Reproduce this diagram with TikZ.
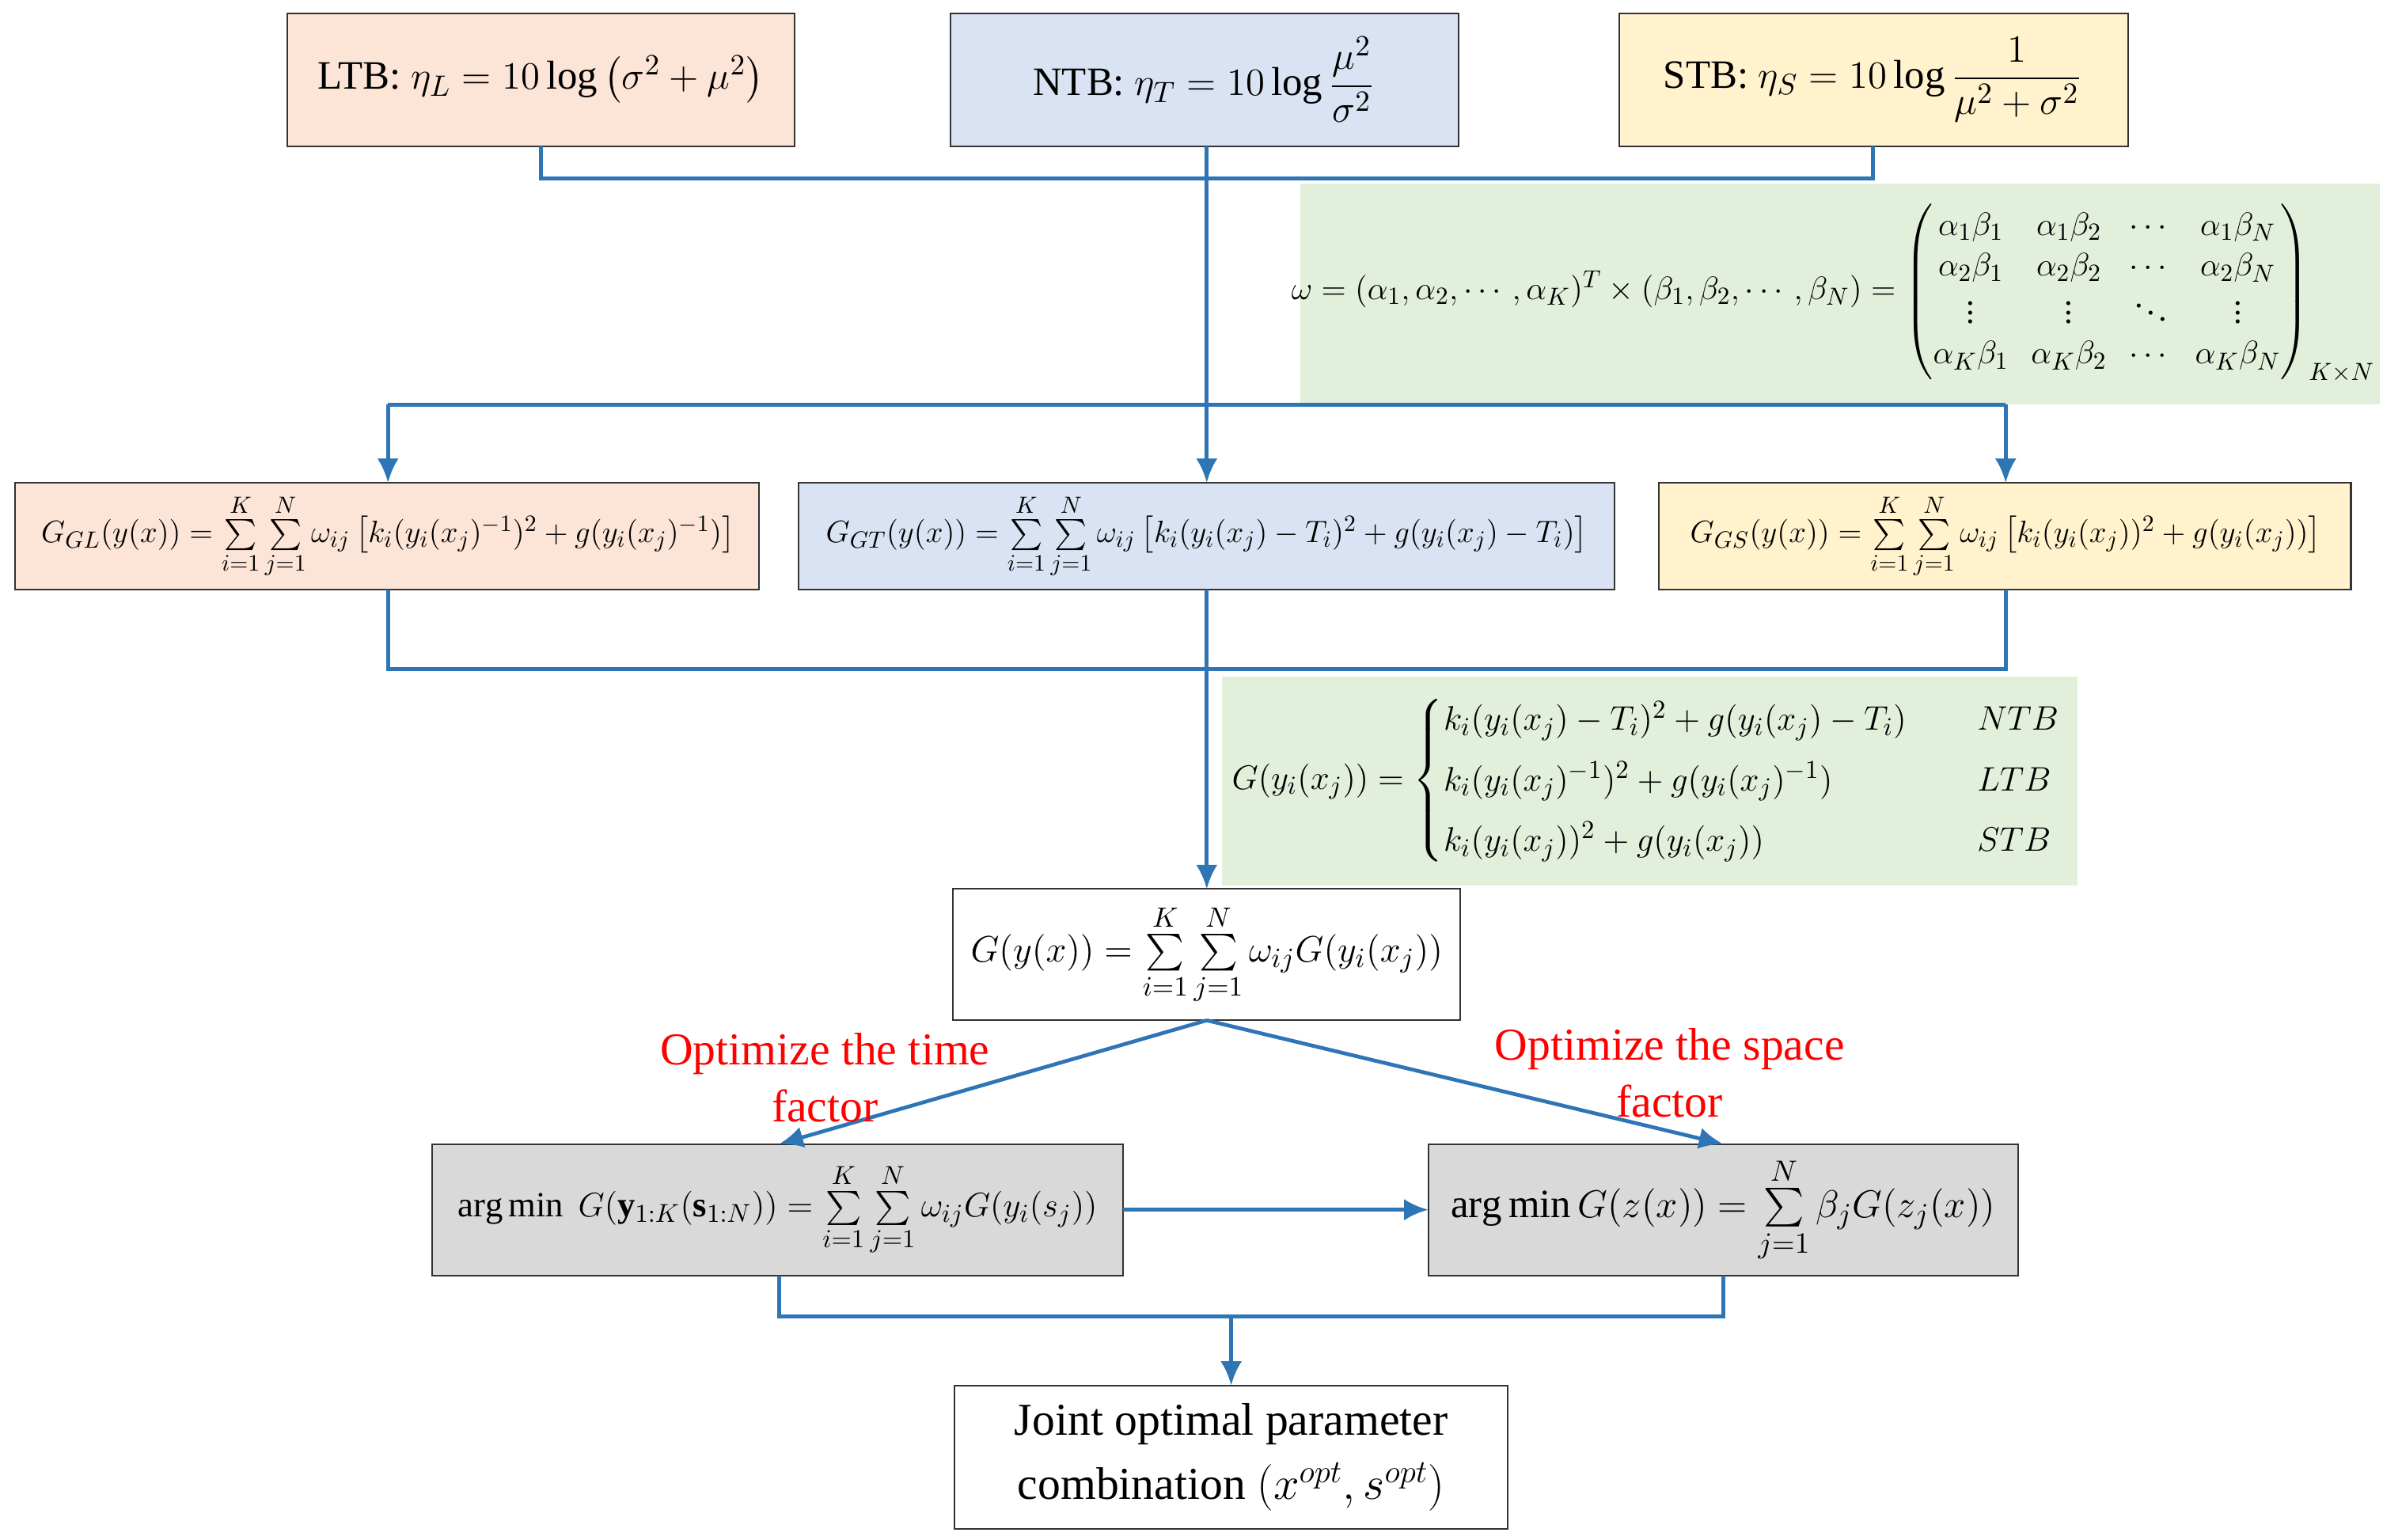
\documentclass[tikz,border=0pt]{standalone}
\usepackage{amsmath}
\usepackage{fontspec}
\setmainfont{Liberation Serif}
\usetikzlibrary{arrows.meta}
\begin{document}
\begin{tikzpicture}[x=0.02cm,y=-0.02cm,
 box/.style={draw=black!80,line width=0.6pt,inner sep=0pt},
 ln/.style={draw=lb,line width=1.4pt},
 ar/.style={ln,-{Latex[length=9pt,width=8pt]}},
 red/.style={text=red,font=\fontsize{17}{20}\selectfont}]
\definecolor{pe}{HTML}{FCE4D6}\definecolor{bl}{HTML}{DAE3F3}\definecolor{lb}{HTML}{2E75B6}
\definecolor{ye}{HTML}{FFF2CC}\definecolor{gr}{HTML}{E2EFDA}\definecolor{gy}{HTML}{D9D9D9}
\fontsize{15}{18}\selectfont
\useasboundingbox (0,0) rectangle (1560,1008);
% boxes
\draw[box,fill=pe] (188,9) rectangle (520,96); \node (ltb) at (354,52) {LTB: $\eta_L=10\log\left(\sigma^2+\mu^2\right)$};
\draw[box,fill=bl] (622,9) rectangle (955,96); \node (ntb) at (788,52) {NTB: $\eta_T=10\log\dfrac{\mu^2}{\sigma^2}$};
\draw[box,fill=ye] (1060,9) rectangle (1393,96); \node (stb) at (1226,52) {STB: $\eta_S=10\log\dfrac{1}{\mu^2+\sigma^2}$};
\fill[gr] (851,120) rectangle (1558,265);
\node (om) at (1200,192) {\scalebox{0.84}{$\omega=(\alpha_1,\alpha_2,\cdots,\alpha_K)^T\times(\beta_1,\beta_2,\cdots,\beta_N)=\begin{pmatrix}\alpha_1\beta_1&\alpha_1\beta_2&\cdots&\alpha_1\beta_N\\ \alpha_2\beta_1&\alpha_2\beta_2&\cdots&\alpha_2\beta_N\\ \vdots&\vdots&\ddots&\vdots\\ \alpha_K\beta_1&\alpha_K\beta_2&\cdots&\alpha_K\beta_N\end{pmatrix}_{K\times N}$}};
\draw[box,fill=pe] (10,316) rectangle (497,386); \node (ggl) at (254,351) {\scalebox{0.8}{$G_{GL}(y(x))=\sum\limits_{i=1}^{K}\sum\limits_{j=1}^{N}\omega_{ij}\left[k_i(y_i(x_j)^{-1})^2+g(y_i(x_j)^{-1})\right]$}};
\draw[box,fill=bl] (523,316) rectangle (1057,386); \node (ggt) at (790,351) {\scalebox{0.8}{$G_{GT}(y(x))=\sum\limits_{i=1}^{K}\sum\limits_{j=1}^{N}\omega_{ij}\left[k_i(y_i(x_j)-T_i)^2+g(y_i(x_j)-T_i)\right]$}};
\draw[box,fill=ye] (1086,316) rectangle (1539,386); \node (ggs) at (1313,351) {\scalebox{0.8}{$G_{GS}(y(x))=\sum\limits_{i=1}^{K}\sum\limits_{j=1}^{N}\omega_{ij}\left[k_i(y_i(x_j))^2+g(y_i(x_j))\right]$}};
\fill[gr] (800,443) rectangle (1360,580);
\node (gd) at (1078,511) {\scalebox{0.88}{$G(y_i(x_j))=\begin{cases}k_i(y_i(x_j)-T_i)^2+g(y_i(x_j)-T_i) & \quad NTB\\[4pt] k_i(y_i(x_j)^{-1})^2+g(y_i(x_j)^{-1}) & \quad LTB\\[4pt] k_i(y_i(x_j))^2+g(y_i(x_j)) & \quad STB\end{cases}$}};
\draw[box,fill=white] (624,582) rectangle (956,668); \node (g) at (790,625) {\scalebox{0.95}{$G(y(x))=\sum\limits_{i=1}^{K}\sum\limits_{j=1}^{N}\omega_{ij}G(y_i(x_j))$}};
\draw[box,fill=gy] (283,749) rectangle (735,835); \node (a1) at (509,792) {\scalebox{0.88}{$\arg\min\ G(\mathbf{y}_{1:K}(\mathbf{s}_{1:N}))=\sum\limits_{i=1}^{K}\sum\limits_{j=1}^{N}\omega_{ij}G(y_i(s_j))$}};
\draw[box,fill=gy] (935,749) rectangle (1321,835); \node (a2) at (1128,792) {$\arg\min G(z(x))=\sum\limits_{j=1}^{N}\beta_jG(z_j(x))$};
\draw[box,fill=white] (625,907) rectangle (987,1001); \node[align=center,font=\fontsize{17}{24}\selectfont] (jo) at (806,954) {Joint optimal parameter\\combination $(x^{opt},s^{opt})$};
% connectors
\coordinate (c1) at (354,117);\coordinate (c2) at (1226,117);
\draw[ln] (354,96) -- (c1) -- (c2) -- (1226,96);
\draw[ar] (790,96) -- (790,316);
\coordinate (h1) at (254,265);\coordinate (h2) at (1313,265);
\draw[ln] (h1) -- (h2);
\draw[ar] (h1) -- (254,316); \draw[ar] (h2) -- (1313,316);
\coordinate (l1) at (254,438);\coordinate (l2) at (1313,438);
\draw[ln] (254,386) -- (l1) -- (l2) -- (1313,386);
\draw[ar] (790,386) -- (790,582);
\draw[ar] (790,668) -- (510,749);
\draw[ar] (790,668) -- (1128,749);
\draw[ar] (735,792) -- (935,792);
\coordinate (b1) at (510,862);\coordinate (b2) at (1128,862);
\draw[ln] (510,835) -- (b1) -- (b2) -- (1128,835);
\draw[ar] (806,862) -- (806,907);
\node[red] at (540,690) {Optimize the time};
\node[red] at (540,724) {factor};
\node[red] at (1093,687) {Optimize the space};
\node[red] at (1093,721) {factor};
\end{tikzpicture}
\end{document}
